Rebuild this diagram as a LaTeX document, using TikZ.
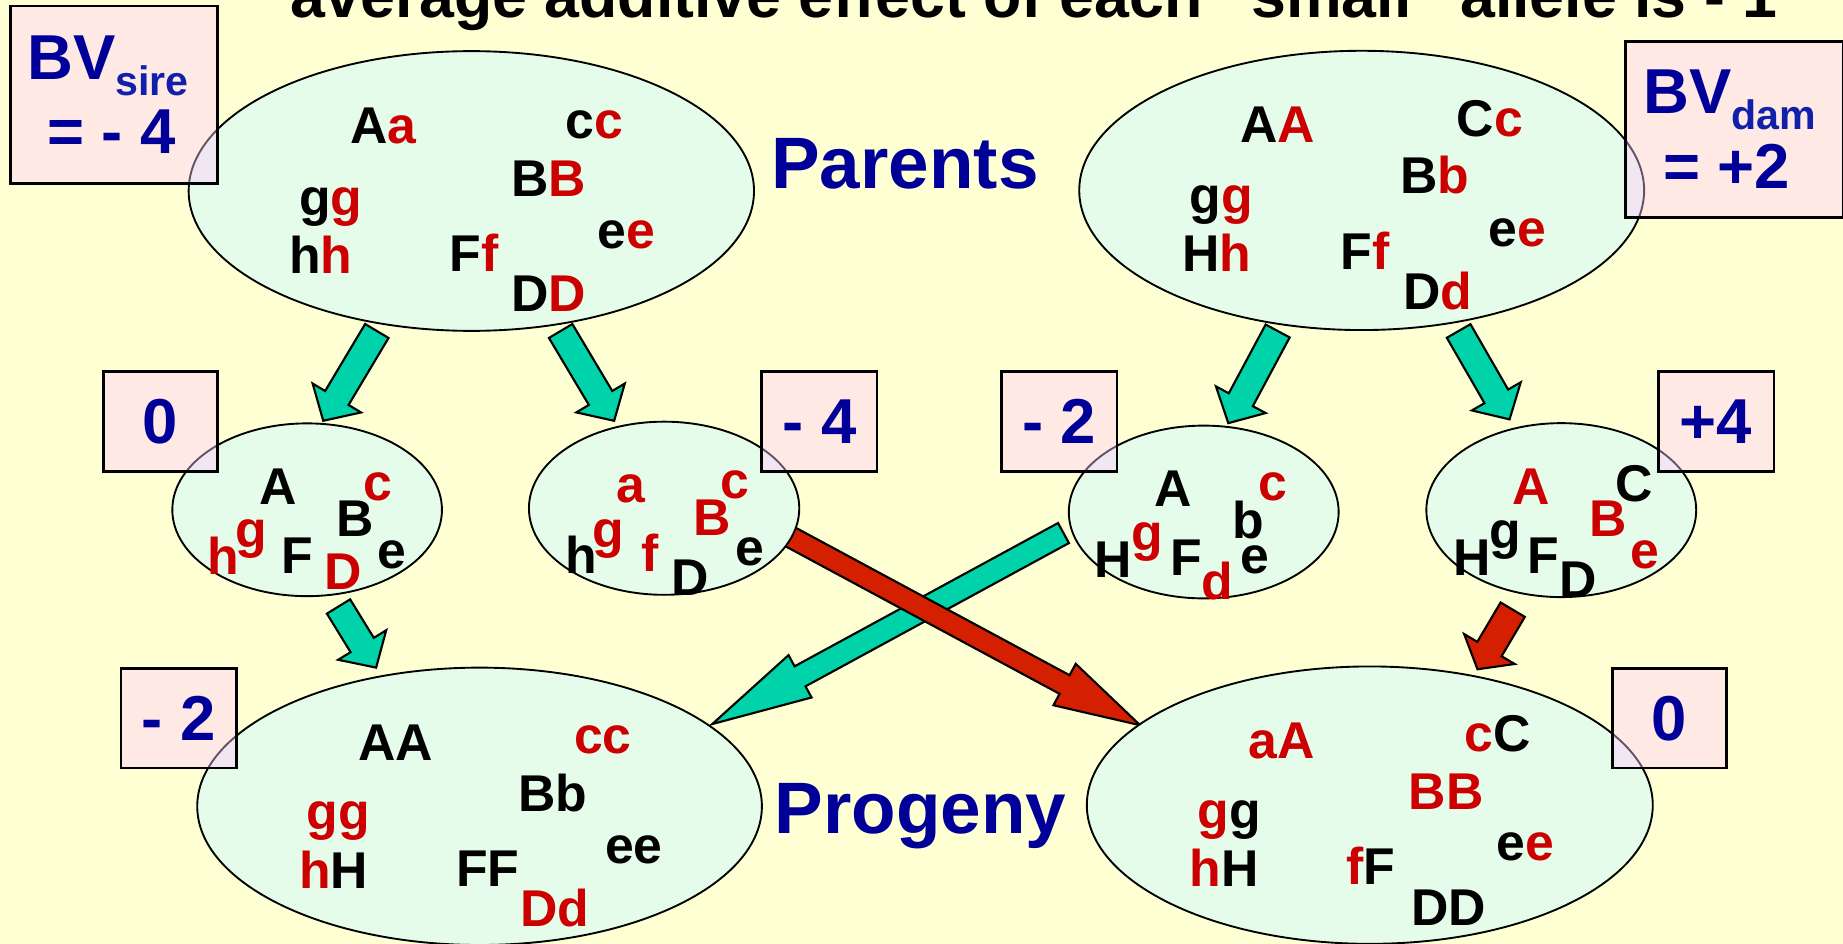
\documentclass[tikz,border=0pt]{standalone}
\usepackage{fontspec}
\setmainfont{Liberation Sans}
\usetikzlibrary{shapes.geometric,calc}
\definecolor{bg}{RGB}{255,255,212}
\definecolor{ellfill}{RGB}{230,252,234}
\definecolor{boxfill}{RGB}{255,200,255}
\definecolor{navy}{RGB}{0,0,153}
\definecolor{subnavy}{RGB}{16,32,170}
\definecolor{allred}{RGB}{204,0,0}
\definecolor{tealarrow}{RGB}{0,210,170}
\definecolor{redarrow}{RGB}{212,32,0}
\newcommand\rd[1]{\textcolor{allred}{#1}}
\newcommand\blockarrow[6]{%
  \draw[arrowedge, fill=#3] let \p1=(#1), \p2=(#2), \n1={atan2(\y2-\y1,\x2-\x1)} in
    ($(\p1)+(\n1+90:#4)$) -- ($(\p2)+(\n1+180:#6)+(\n1+90:#4)$)
    -- ($(\p2)+(\n1+180:#6)+(\n1+90:#5)$) -- (\p2)
    -- ($(\p2)+(\n1+180:#6)+(\n1-90:#5)$) -- ($(\p2)+(\n1+180:#6)+(\n1-90:#4)$)
    -- ($(\p1)+(\n1-90:#4)$) -- cycle;}
\tikzset{
  pool/.style={ellipse, draw=black, line width=1.6pt, fill=ellfill, inner sep=0pt},
  nbox/.style={rectangle, draw=black, line width=2.2pt, fill=boxfill, fill opacity=0.4,
    draw opacity=1, text opacity=1, inner sep=0pt, anchor=north west, text=navy,
    font=\fontsize{54}{54}\selectfont\bfseries},
  bvtext/.style={inner sep=0pt, text=navy, font=\fontsize{54}{54}\selectfont\bfseries},
  al/.style={inner sep=0pt, anchor=base, font=\fontsize{44}{44}\selectfont\bfseries},
  bigword/.style={inner sep=0pt, anchor=base west, text=navy, font=\fontsize{62}{62}\selectfont\bfseries},
  titletext/.style={inner sep=0pt, anchor=base west, font=\fontsize{53.3}{53.3}\selectfont\bfseries},
  arrowedge/.style={draw=black, line width=1.8pt, line join=miter}
}
\newcommand\subf{\fontsize{35}{35}\selectfont\color{subnavy}}
\begin{document}
\begin{tikzpicture}[x=1pt,y=-1pt]
\path[use as bounding box, fill=bg] (0,0) rectangle (1568,803);

% title (cut off at the top)
\node[titletext] (title) at (247,15) {average additive effect of each “small” allele is - 1};

% arrow end points
\coordinate (a1s) at (320.6,281.6); \coordinate (a1e) at (275,358);
\coordinate (a2s) at (477,281.6);   \coordinate (a2e) at (522.5,358);
\coordinate (a3s) at (1087,281.6);  \coordinate (a3e) at (1045,360);
\coordinate (a4s) at (1241,281.6);  \coordinate (a4e) at (1284.3,356.8);
\coordinate (a5s) at (288,516);     \coordinate (a5e) at (320,568);
\coordinate (a6s) at (904.8,453.5); \coordinate (a6e) at (606,616);
\coordinate (a7s) at (671,456);     \coordinate (a7e) at (970,617);
\coordinate (a8s) at (1287,518.7);  \coordinate (a8e) at (1257,569.4);

% arrows
\blockarrow{a1s}{a1e}{tealarrow}{11.6pt}{24pt}{22.6pt}
\blockarrow{a2s}{a2e}{tealarrow}{11.6pt}{24pt}{22.6pt}
\blockarrow{a3s}{a3e}{tealarrow}{11.6pt}{24pt}{22.6pt}
\blockarrow{a4s}{a4e}{tealarrow}{11.6pt}{24pt}{22.6pt}
\blockarrow{a5s}{a5e}{tealarrow}{11.6pt}{24pt}{22.6pt}
\blockarrow{a6s}{a6e}{tealarrow}{9.7pt}{20.5pt}{85pt}
\blockarrow{a7s}{a7e}{redarrow}{9pt}{20pt}{73pt}
\blockarrow{a8s}{a8e}{redarrow}{12pt}{25pt}{20pt}

% pools
\node[pool, minimum width=481pt, minimum height=238pt] (sire) at (401,162.5) {};
\node[pool, minimum width=480.6pt, minimum height=237.6pt] (dam) at (1158.5,162) {};
\node[pool, minimum width=229.4pt, minimum height=147pt] (g1) at (261.3,433.7) {};
\node[pool, minimum width=230pt, minimum height=147.3pt] (g2) at (565,432.4) {};
\node[pool, minimum width=229.6pt, minimum height=147pt] (g3) at (1024.1,435.6) {};
\node[pool, minimum width=229.6pt, minimum height=148pt] (g4) at (1328.3,434) {};
\node[pool, minimum width=480.4pt, minimum height=236pt] (progL) at (408,686) {};
\node[pool, minimum width=481.5pt, minimum height=236pt] (progR) at (1165.4,685) {};

% value boxes
\node[nbox, minimum width=176pt, minimum height=151pt] (bvsire) at (8,4) {};
\node[nbox, minimum width=185pt, minimum height=150pt] (bvdam) at (1382,34) {};
\node[nbox, minimum width=97pt, minimum height=85pt] (b1) at (87,315) {0};
\node[nbox, minimum width=98pt, minimum height=85pt] (b2) at (647,315) {- 4};
\node[nbox, minimum width=98.4pt, minimum height=85pt] (b3) at (850.8,315) {- 2};
\node[nbox, minimum width=98.3pt, minimum height=85pt] (b4) at (1409.7,315) {+4};
\node[nbox, minimum width=98pt, minimum height=84.6pt] (b5) at (102,567.7) {- 2};
\node[nbox, minimum width=96.8pt, minimum height=84.6pt] (b6) at (1370.8,567.7) {0};

\node[bvtext, anchor=base west] (bvs1) at (23,67.5) {BV\raisebox{-14pt}{\subf sire}};
\node[bvtext, anchor=base] (bvs2) at (95,130.4) {= - 4};
\node[bvtext, anchor=base west] (bvd1) at (1398,96.4) {BV\raisebox{-13.6pt}{\subf dam}};
\node[bvtext, anchor=base] (bvd2) at (1469,160.2) {= +2};

\node[bigword] (parents) at (656,160.2) {Parents};
\node[bigword] (progeny) at (659,709) {Progeny};

% sire alleles
\node[al] (s1) at (326,122.5) {A\rd{a}};
\node[al] (s2) at (506,117.7) {c\rd{c}};
\node[al] (s3) at (466.6,166.8) {B\rd{B}};
\node[al] (s4) at (281.6,183.7) {g\rd{g}};
\node[al] (s5) at (273,232.5) {h\rd{h}};
\node[al] (s6) at (403.3,231) {F\rd{f}};
\node[al] (s7) at (532.6,211) {e\rd{e}};
\node[al] (s8) at (467,265) {D\rd{D}};

% dam alleles
\node[al] (d1) at (1087,121.4) {A\rd{A}};
\node[al] (d2) at (1267.7,116.3) {C\rd{c}};
\node[al] (d3) at (1220.9,165) {B\rd{b}};
\node[al] (d4) at (1039.1,181.3) {g\rd{g}};
\node[al] (d5) at (1035.3,231.1) {H\rd{h}};
\node[al] (d6) at (1161.2,229.1) {F\rd{f}};
\node[al] (d7) at (1290.8,209.3) {e\rd{e}};
\node[al] (d8) at (1223,263.2) {D\rd{d}};

% gamete 1
\node[al] (e1a) at (236.4,429.6) {A};
\node[al] (e1b) at (301.8,456.6) {B};
\node[al] (e1c) at (321.4,425.4) {\rd{c}};
\node[al] (e1h) at (190.3,489) {\rd{h}};
\node[al] (e1g) at (213.6,466) {\rd{g}};
\node[al] (e1f) at (253,487.8) {F};
\node[al] (e1d) at (291.8,501.4) {\rd{D}};
\node[al] (e1e) at (333.5,483.5) {e};

% gamete 2
\node[al] (e2a) at (537,427.6) {\rd{a}};
\node[al] (e2b) at (606.2,455.2) {\rd{B}};
\node[al] (e2c) at (625.2,424) {\rd{c}};
\node[al] (e2h) at (494.2,487.8) {h};
\node[al] (e2g) at (517.9,466) {\rd{g}};
\node[al] (e2f) at (553,486.4) {\rd{f}};
\node[al] (e2d) at (586.8,507) {D};
\node[al] (e2e) at (637.7,480.7) {e};

% gamete 3
\node[al] (e3a) at (998.5,431) {A};
\node[al] (e3b) at (1062.3,458) {b};
\node[al] (e3c) at (1083.1,425.4) {\rd{c}};
\node[al] (e3h) at (947.3,491.2) {H};
\node[al] (e3g) at (976.1,468.5) {\rd{g}};
\node[al] (e3f) at (1009,489.2) {F};
\node[al] (e3d) at (1035.6,509.9) {\rd{d}};
\node[al] (e3e) at (1068,487.8) {e};

% gamete 4
\node[al] (e4a) at (1302.9,429.6) {\rd{A}};
\node[al] (e4c) at (1390.7,426.8) {C};
\node[al] (e4b) at (1367.9,456.6) {\rd{B}};
\node[al] (e4e) at (1399.6,483.5) {\rd{e}};
\node[al] (e4h) at (1252.6,489.2) {H};
\node[al] (e4g) at (1280.3,466.7) {g};
\node[al] (e4f) at (1312.7,487.8) {F};
\node[al] (e4d) at (1342.4,508.2) {D};

% progeny left
\node[al] (l1) at (336.6,646.6) {AA};
\node[al] (l2) at (513,640.9) {\rd{cc}};
\node[al] (l3) at (470.4,690.5) {Bb};
\node[al] (l4) at (287.9,705.4) {\rd{gg}};
\node[al] (l5) at (283.8,755.8) {\rd{h}H};
\node[al] (l6) at (415,753.8) {FF};
\node[al] (l7) at (539.2,734.5) {ee};
\node[al] (l8) at (472.2,788.4) {\rd{Dd}};

% progeny right
\node[al] (r1) at (1090.4,645.2) {\rd{aA}};
\node[al] (r2) at (1274.1,639.5) {\rd{c}C};
\node[al] (r3) at (1230.4,688.6) {\rd{BB}};
\node[al] (r4) at (1046,704.8) {\rd{g}g};
\node[al] (r5) at (1041.4,753.8) {\rd{h}H};
\node[al] (r6) at (1166,752.1) {\rd{f}F};
\node[al] (r7) at (1297.8,732.2) {e\rd{e}};
\node[al] (r8) at (1232.4,787) {DD};
\end{tikzpicture}
\end{document}
